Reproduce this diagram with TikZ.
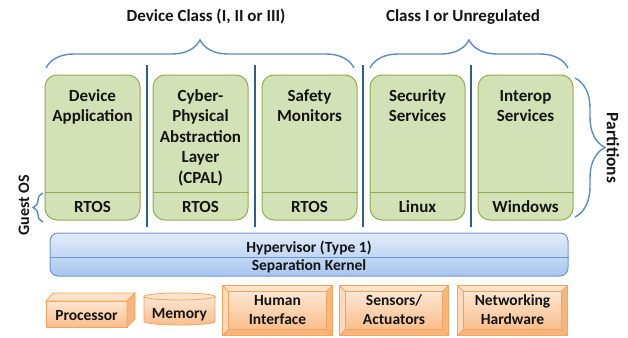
\documentclass[tikz,border=0pt]{standalone}
\usepackage{fontspec}
\setmainfont{Carlito}
\usetikzlibrary{decorations.pathreplacing}

\definecolor{grfill}{HTML}{D3E1B7}
\definecolor{grline}{HTML}{8FAE50}
\definecolor{sepblue}{HTML}{2E5C94}
\definecolor{brblue}{HTML}{5B8CC8}
\definecolor{hvtop}{HTML}{E2ECFA}
\definecolor{hvbot}{HTML}{A7C6EE}
\definecolor{hvline}{HTML}{6F98D0}
\definecolor{ortop}{HTML}{FDE6D2}
\definecolor{orbot}{HTML}{F9BE8C}
\definecolor{orline}{HTML}{F7A35C}
\definecolor{orside}{HTML}{F6B67E}
\definecolor{orlight}{HTML}{FDE3CB}
\definecolor{txt}{HTML}{141414}

\begin{document}
\begin{tikzpicture}[x=1pt,y=-1pt,
  lbl/.style={font=\bfseries\fontsize{17}{20.5}\selectfont, text=txt, inner sep=0pt, align=center},
  hwlbl/.style={font=\bfseries\fontsize{15.5}{19}\selectfont, text=txt, inner sep=0pt, align=center},
  part/.style={draw=grline, fill=grfill, rounded corners=12pt, line width=1pt, inner sep=0pt, minimum width=95pt, minimum height=145pt},
  sepline/.style={draw=sepblue, line width=2.2pt},
  brace/.style={draw=brblue, line width=1.4pt, decorate, decoration={brace, amplitude=#1}},
  bev/.style={draw=orline, fill=orside, line width=0.8pt, inner sep=0pt, minimum height=49pt},
  orface/.style={draw=orline, line width=0.8pt},
]
\useasboundingbox (0,0) rectangle (628,337);

% top labels and braces
\node[lbl, anchor=base] (dc) at (206,22) {Device Class (I, II or III)};
\node[lbl, anchor=base] (cu) at (463,22) {Class I or Unregulated};
\draw[brace=28pt] (46,68) -- (354,68);
\draw[brace=28pt] (370,68) -- (568,68);

% partitions
\foreach \n/\x in {p1/92.5, p2/200.5, p3/309.5, p4/417.5, p5/525.5}{
  \node[part] (\n) at (\x,147.5) {};
  \draw[grline, line width=1pt] ([yshift=28pt]\n.south west) -- ([yshift=28pt]\n.south east);
}
\node[lbl, anchor=north] (t1) at (92.5,86.6) {\strut Device\\Application};
\node[lbl, anchor=north] (t2) at (200.5,86.6) {\strut Cyber-\\Physical\\Abstraction\\Layer\\(CPAL)};
\node[lbl, anchor=north] (t3) at (309.5,86.6) {\strut Safety\\Monitors};
\node[lbl, anchor=north] (t4) at (417.5,86.6) {\strut Security\\Services};
\node[lbl, anchor=north] (t5) at (525.5,86.6) {\strut Interop\\Services};
\node[lbl, anchor=base] (o1) at (92.5,212) {RTOS};
\node[lbl, anchor=base] (o2) at (200.5,212) {RTOS};
\node[lbl, anchor=base] (o3) at (309.5,212) {RTOS};
\node[lbl, anchor=base] (o4) at (417.5,212) {Linux};
\node[lbl, anchor=base] (o5) at (525.5,212) {Windows};

% separators
\foreach \x in {147,255,363,471}{
  \draw[sepline] (\x,65) -- (\x,227);
}

% side braces
\draw[brace=30pt] (575,78) -- (575,217);
\node[lbl, font=\bfseries\fontsize{17.5}{20}\selectfont, rotate=-90] (pt) at (613,148) {Partitions};
\draw[brace=10pt] (43,222) -- (43,193);
\node[lbl, font=\bfseries\fontsize{16}{20}\selectfont, rotate=90] (go) at (24,205) {Guest OS};

% hypervisor
\node[draw=hvline, line width=1pt, rounded corners=8pt, top color=hvtop, bottom color=hvbot,
      minimum width=518pt, minimum height=43pt, inner sep=0pt] (hv) at (309,254.5) {};
\draw[hvline, line width=1pt] ([yshift=19pt]hv.south west) -- ([yshift=19pt]hv.south east);
\node[hwlbl, anchor=base] (hvt) at (309,252) {Hypervisor (Type 1)};
\node[hwlbl, anchor=base] (skt) at (309,270) {Separation Kernel};

% processor (3D box)
\node[orface, top color=ortop, bottom color=orbot, minimum width=81pt, minimum height=26pt, inner sep=0pt] (proc) at (86.5,314) {};
\draw[orface, fill=orlight] (46,301) -- (53,293) -- (135,293) -- (127,301) -- cycle;
\draw[orface, fill=orside] (127,301) -- (135,293) -- (135,319) -- (127,327) -- cycle;
\node[hwlbl, anchor=base] (proct) at (86.5,320.7) {Processor};

% memory (cylinder)
\draw[orface, top color=ortop, bottom color=orbot] (144,296.5) -- (144,321.5)
  arc[start angle=180, end angle=0, x radius=35.5, y radius=3.5] -- (215,296.5) -- cycle;
\draw[orface, fill=orlight] (179.5,296.5) ellipse[x radius=35.5, y radius=3.5];
\node[hwlbl, anchor=base] (memt) at (179.5,318) {Memory};

% bevel boxes
\foreach \n/\x/\w/\t in {hi/277.5/109/{Human\\Interface}, sa/394/108/{Sensors/\\Actuators}, nh/512.5/109/{Networking\\Hardware}}{
  \node[bev, minimum width=\w pt] (\n) at (\x,310.5) {};
  \fill[orlight] (\n.north west) -- (\n.north east) -- ([shift={(-6pt,-6pt)}]\n.north east) -- ([shift={(6pt,-6pt)}]\n.north west) -- cycle;
  \fill[orlight!80!orside] (\n.north west) -- ([shift={(6pt,-6pt)}]\n.north west) -- ([shift={(6pt,6pt)}]\n.south west) -- (\n.south west) -- cycle;
  \draw[orface, top color=ortop, bottom color=orbot] ([shift={(6pt,6pt)}]\n.south west) rectangle ([shift={(-6pt,-6pt)}]\n.north east);
  \draw[orface] (\n.north west) -- ++(6pt,-6pt) (\n.north east) -- ++(-6pt,-6pt)
               (\n.south west) -- ++(6pt,6pt) (\n.south east) -- ++(-6pt,6pt);
  \draw[orface] (\n.south west) rectangle (\n.north east);
  \node[hwlbl, anchor=north] at ([yshift=-6pt]\n.north) {\strut \t};
}
\end{tikzpicture}
\end{document}
